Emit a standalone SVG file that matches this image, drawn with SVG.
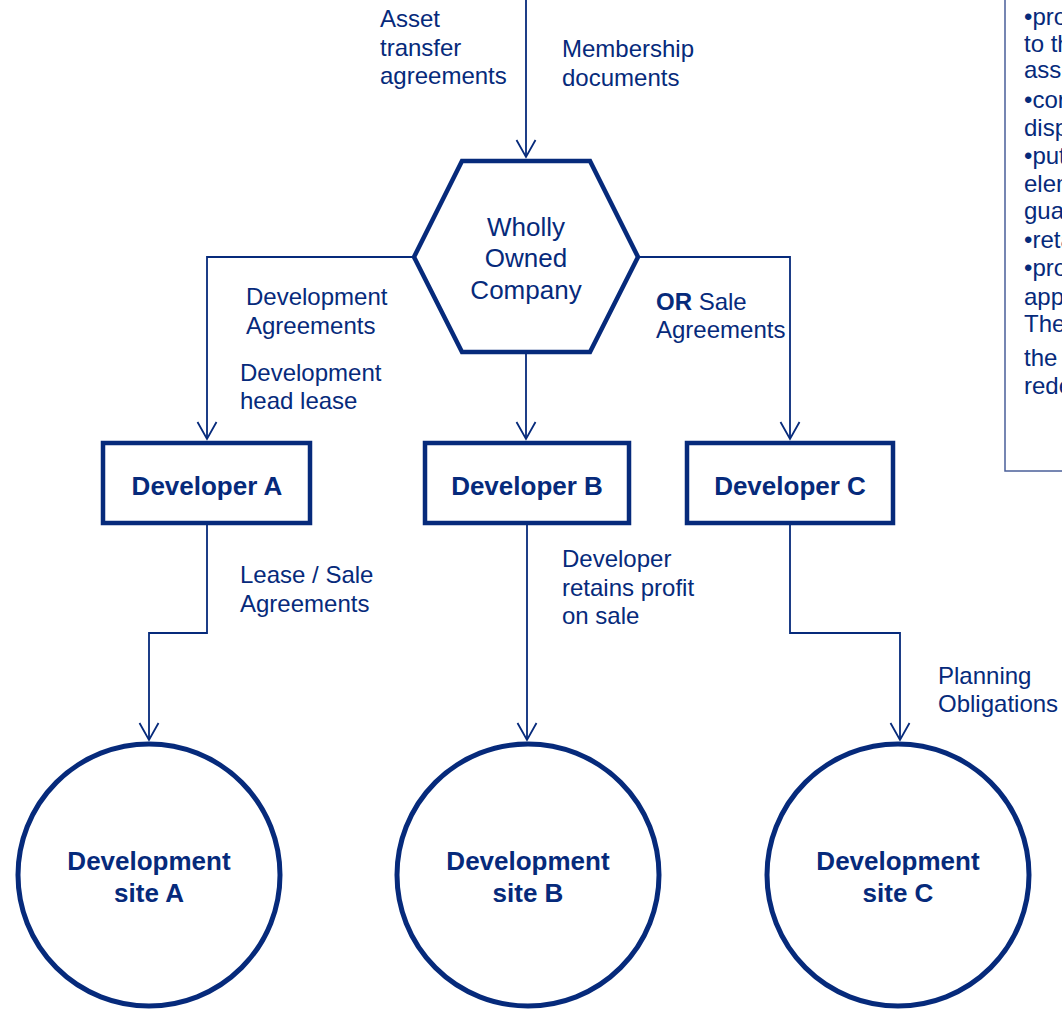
<svg xmlns="http://www.w3.org/2000/svg" width="1062" height="1009" viewBox="0 0 1062 1009">
  <style>
    .lbl { font-family: "Liberation Sans", Arial, sans-serif; font-size: 24px; fill: #062a7b; }
    .hex { font-family: "Liberation Sans", Arial, sans-serif; font-size: 26px; fill: #062a7b; text-anchor: middle; }
    .bold { font-family: "Liberation Sans", Arial, sans-serif; font-size: 26px; font-weight: bold; fill: #062a7b; text-anchor: middle; }
    .shape { fill: #ffffff; stroke: #062a7b; stroke-width: 4.5; }
    .site { fill: #ffffff; stroke: #062a7b; stroke-width: 5; }
    .conn { fill: none; stroke: #062a7b; stroke-width: 1.8; }
    .note { fill: none; stroke: #4a5f99; stroke-width: 1.5; }
  </style>
  <defs>
    <marker id="arrow" markerUnits="userSpaceOnUse" markerWidth="20" markerHeight="20" refX="0" refY="0" orient="auto" overflow="visible">
      <path d="M-17,-9.5 L0,0 L-17,9.5" fill="none" stroke="#062a7b" stroke-width="1.8"/>
    </marker>
  </defs>
  <rect width="1062" height="1009" fill="#ffffff"/>

  <!-- side note box (runs past the page edge) -->
  <g id="note">
    <rect class="note" x="1005" y="-10" width="120" height="481"/>
    <text class="lbl" x="1024" y="25">•pro</text>
    <text class="lbl" x="1024" y="52">to th</text>
    <text class="lbl" x="1024" y="78">ass</text>
    <text class="lbl" x="1024" y="108">•cor</text>
    <text class="lbl" x="1024" y="136">disp</text>
    <text class="lbl" x="1024" y="164">•put</text>
    <text class="lbl" x="1024" y="192">elem</text>
    <text class="lbl" x="1024" y="219">gua</text>
    <text class="lbl" x="1024" y="248">•reta</text>
    <text class="lbl" x="1024" y="276">•pro</text>
    <text class="lbl" x="1024" y="305">app</text>
    <text class="lbl" x="1024" y="332">The</text>
    <text class="lbl" x="1024" y="366">the</text>
    <text class="lbl" x="1024" y="394">rede</text>
  </g>

  <!-- connectors -->
  <g id="connectors">
    <line class="conn" x1="526" y1="0" x2="526" y2="157" marker-end="url(#arrow)"/>
    <polyline class="conn" points="414,257 207,257 207,439" marker-end="url(#arrow)"/>
    <line class="conn" x1="526" y1="354" x2="526" y2="439" marker-end="url(#arrow)"/>
    <polyline class="conn" points="638,257 790,257 790,439" marker-end="url(#arrow)"/>
    <polyline class="conn" points="207,525 207,633 149,633 149,740" marker-end="url(#arrow)"/>
    <line class="conn" x1="527" y1="525" x2="527" y2="740" marker-end="url(#arrow)"/>
    <polyline class="conn" points="790,525 790,633 900,633 900,740" marker-end="url(#arrow)"/>
  </g>

  <!-- connector labels -->
  <g id="labels">
    <text class="lbl" x="380" y="27">Asset</text>
    <text class="lbl" x="380" y="56">transfer</text>
    <text class="lbl" x="380" y="84">agreements</text>
    <text class="lbl" x="562" y="57">Membership</text>
    <text class="lbl" x="562" y="86">documents</text>
    <text class="lbl" x="246" y="305">Development</text>
    <text class="lbl" x="246" y="334">Agreements</text>
    <text class="lbl" x="240" y="381">Development</text>
    <text class="lbl" x="240" y="409">head lease</text>
    <text class="lbl" x="656" y="310"><tspan font-weight="bold">OR</tspan> Sale</text>
    <text class="lbl" x="656" y="338">Agreements</text>
    <text class="lbl" x="240" y="583">Lease / Sale</text>
    <text class="lbl" x="240" y="612">Agreements</text>
    <text class="lbl" x="562" y="567">Developer</text>
    <text class="lbl" x="562" y="596">retains profit</text>
    <text class="lbl" x="562" y="624">on sale</text>
    <text class="lbl" x="938" y="684">Planning</text>
    <text class="lbl" x="938" y="712">Obligations</text>
  </g>

  <g id="company">
    <polygon class="shape" points="462,161 590,161 638,257 590,352 462,352 414,257"/>
    <text class="hex" x="526" y="236">Wholly</text>
    <text class="hex" x="526" y="267">Owned</text>
    <text class="hex" x="526" y="299">Company</text>
  </g>

  <g id="developer-a">
    <rect class="shape" x="103" y="443" width="207" height="80"/>
    <text class="bold" x="207" y="495">Developer A</text>
  </g>
  <g id="developer-b">
    <rect class="shape" x="425" y="443" width="204" height="80"/>
    <text class="bold" x="527" y="495">Developer B</text>
  </g>
  <g id="developer-c">
    <rect class="shape" x="687" y="443" width="206" height="80"/>
    <text class="bold" x="790" y="495">Developer C</text>
  </g>

  <g id="site-a">
    <circle class="site" cx="149" cy="875" r="131"/>
    <text class="bold" x="149" y="870">Development</text>
    <text class="bold" x="149" y="902">site A</text>
  </g>
  <g id="site-b">
    <circle class="site" cx="528" cy="875" r="131"/>
    <text class="bold" x="528" y="870">Development</text>
    <text class="bold" x="528" y="902">site B</text>
  </g>
  <g id="site-c">
    <circle class="site" cx="898" cy="875" r="131"/>
    <text class="bold" x="898" y="870">Development</text>
    <text class="bold" x="898" y="902">site C</text>
  </g>
</svg>
